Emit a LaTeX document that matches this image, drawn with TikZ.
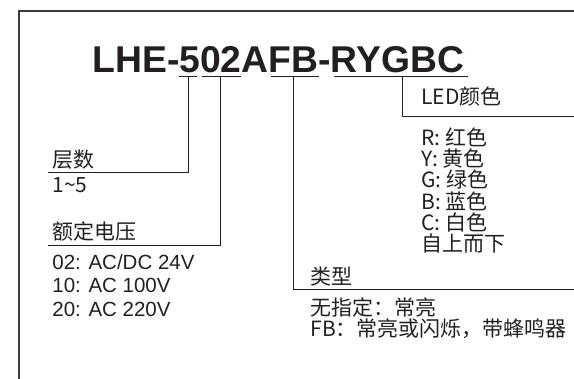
\documentclass[tikz,border=0pt]{standalone}
\usepackage{fontspec}
\setmainfont{Liberation Sans}
\newfontfamily\cjk{Noto Sans CJK SC}
\usetikzlibrary{positioning}
\definecolor{ink}{HTML}{231F20}
\definecolor{framegray}{HTML}{3C3C3C}

\begin{document}
\begin{tikzpicture}[x=1pt,y=-1pt,
    color=ink,
    line width=0.9pt,
    lbl/.style={anchor=base west,inner sep=0pt,font=\cjk\fontsize{21}{24}\selectfont},
    val/.style={anchor=base west,inner sep=0pt,font=\fontsize{20.5}{24}\selectfont}]
    \useasboundingbox (0,0) rectangle (574,379);
    \draw[framegray,line width=1.4pt] (574,11) -- (19,11) -- (19,379);
    % model code and its underlines
    \node[anchor=base west,inner sep=0pt,font=\bfseries\fontsize{37.3}{40}\selectfont] (code) at (92,73) {LHE-502AFB-RYGBC};
    \draw (179,76) -- (197,76)
          (202,76) -- (241,76)
          (271,76) -- (319,76)
          (334,76) -- (468,76);
    \coordinate (tier) at (188,76);
    \coordinate (volt) at (220,76);
    \coordinate (kind) at (293,76);
    \coordinate (led) at (402,76);
    \coordinate (tierEnd) at (48,172);
    \coordinate (voltEnd) at (48,245);
    \coordinate (kindEnd) at (574,289);
    \coordinate (ledEnd) at (574,116);
    \draw (tier) |- (tierEnd);
    \draw (volt) |- (voltEnd);
    \draw (kind) |- (kindEnd);
    \draw (led) |- (ledEnd);
    % left side
    \node[lbl] (tierL) at (52,168) {层数};
    \node[lbl] (tierV) at (52,193) {1\textasciitilde 5};
    \node[lbl] (voltL) at (52,240) {额定电压};
    \node[val] (volt1) at (52,270) {02: AC/DC 24V};
    \node[val] (volt2) at (52,293) {10: AC 100V};
    \node[val] (volt3) at (52,317) {20: AC 220V};
    % led colours
    \node[lbl] (ledL) at (421,105) {LED颜色};
    \foreach \t/\y [count=\i] in {R: 红色/146,Y: 黄色/167,G: 绿色/188,B: 蓝色/210,C: 白色/231,自上而下/252}
        \node[lbl] (led\i) at (421,\y) {\t};
    % type
    \node[lbl] (kindL) at (310,285) {类型};
    \node[lbl] (kind1) at (310,316) {无指定：常亮};
    \node[lbl] (kind2) at (310,337) {FB：常亮或闪烁，带蜂鸣器};
\end{tikzpicture}
\end{document}
